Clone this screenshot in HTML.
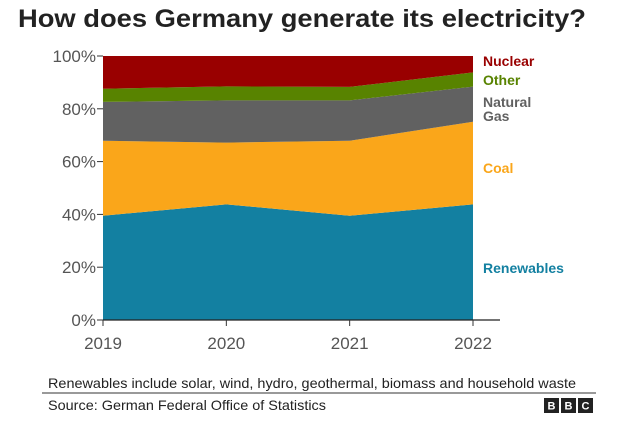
<!DOCTYPE html>
<html><head><meta charset="utf-8"><style>
body{margin:0;background:#fff;width:640px;height:421px;overflow:hidden;font-family:"Liberation Sans",sans-serif}
</style></head><body>
<svg width="640" height="421">
<text x="18" y="27" font-size="25" font-weight="bold" fill="#222" textLength="568" lengthAdjust="spacingAndGlyphs">How does Germany generate its electricity?</text>
<g id="plot"></g>
<text x="48" y="388" font-size="14" fill="#222" textLength="528" lengthAdjust="spacingAndGlyphs">Renewables include solar, wind, hydro, geothermal, biomass and household waste</text>
<line x1="42" y1="393" x2="596" y2="393" stroke="#333" stroke-width="1"/>
<text x="48" y="410" font-size="14" fill="#222" textLength="278" lengthAdjust="spacingAndGlyphs">Source: German Federal Office of Statistics</text>
<g font-weight="bold" font-size="11" fill="#fff" text-anchor="middle">
<rect x="544" y="398" width="15" height="15" fill="#222"/><text x="551.5" y="409.5">B</text>
<rect x="561" y="398" width="15" height="15" fill="#222"/><text x="568.5" y="409.5">B</text>
<rect x="578" y="398" width="15" height="15" fill="#222"/><text x="585.5" y="409.5">C</text>
</g>
</svg>
<script>
const years=["2019","2020","2021","2022"];
const renewables=[39.5,43.8,39.5,43.8];
const coal=[28.4,23.4,28.4,31.3];
const gas=[14.7,16.0,15.3,13.3];
const other=[5.0,5.3,5.1,5.4];
const nuclear=[12.4,11.5,11.7,6.2];
const yTicks=[0,20,40,60,80,100];
const seriesNames=["Renewables","Coal","Natural Gas","Other","Nuclear"];
const NS="http://www.w3.org/2000/svg";
const g=document.getElementById('plot');
const x0=103,x1=473,yTop=56,yBot=320;
const xs=i=>x0+(x1-x0)*i/(years.length-1);
const ys=v=>yBot-(yBot-yTop)*v/100;
function mk(t,a){const e=document.createElementNS(NS,t);for(const k in a)e.setAttribute(k,a[k]);g.appendChild(e);return e;}
const series=[renewables,coal,gas,other,nuclear];
const colors=["#1380A1","#FAA61A","#616161","#588300","#990000"];
const keys=["renewables","coal","natural-gas","other","nuclear"];
let base=years.map(()=>0);
series.forEach((s,k)=>{
  const top=base.map((b,i)=>b+s[i]);
  let pts=top.map((v,i)=>xs(i)+","+ys(v));
  for(let i=years.length-1;i>=0;i--)pts.push(xs(i)+","+ys(base[i]));
  const p=mk('polygon',{points:pts.join(' '),fill:colors[k]});
  
  
  base=top;
});
yTicks.forEach(v=>{
  const l=mk('line',{x1:x0-6,x2:x0,y1:ys(v),y2:ys(v),stroke:'#333'});
  
  
  const t=mk('text',{x:x0-7,y:ys(v)+6,'font-size':17,fill:'#555','text-anchor':'end'});
  t.textContent=v+'%';
  
  
});
const ax=mk('line',{x1:x0,x2:500,y1:yBot,y2:yBot,stroke:'#222','stroke-width':1.3});


years.forEach((y,i)=>{
  const l=mk('line',{x1:xs(i),x2:xs(i),y1:yBot,y2:yBot+6,stroke:'#333'});
  
  
  const t=mk('text',{x:xs(i),y:349,'font-size':17,fill:'#555','text-anchor':'middle'});
  t.textContent=y;
  
  
});
const labels=[["Renewables",273],["Coal",173],["Natural",107],["Gas",121],["Other",85],["Nuclear",66]];
const lc={"Renewables":0,"Coal":1,"Natural":2,"Gas":2,"Other":3,"Nuclear":4};
labels.forEach(([s,y])=>{
  const t=mk('text',{x:483,y:y,'font-size':14,'font-weight':'bold',fill:colors[lc[s]]});
  t.textContent=s;
  
  
});
</script>
</body></html>
